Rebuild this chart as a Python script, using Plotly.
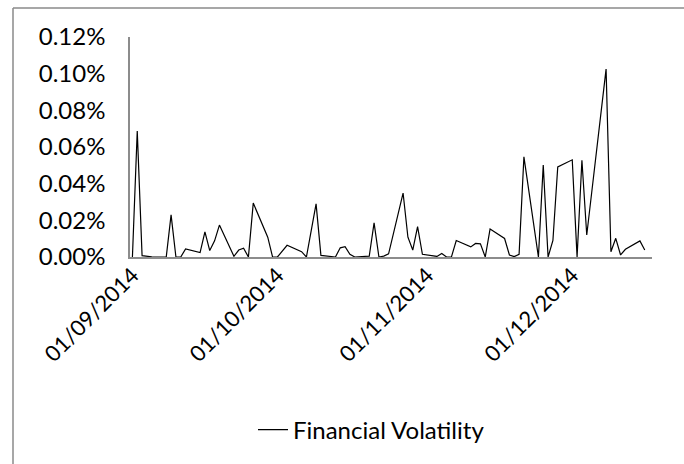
import plotly.graph_objects as go

# ---- data ----
dates = [
    "2014-09-01", "2014-09-02", "2014-09-03", "2014-09-04", "2014-09-05",
    "2014-09-08", "2014-09-09", "2014-09-10", "2014-09-11", "2014-09-12",
    "2014-09-15", "2014-09-16", "2014-09-17", "2014-09-18", "2014-09-19",
    "2014-09-22", "2014-09-23", "2014-09-24", "2014-09-25", "2014-09-26",
    "2014-09-29", "2014-09-30", "2014-10-01", "2014-10-03",
    "2014-10-06", "2014-10-07", "2014-10-09", "2014-10-10",
    "2014-10-13", "2014-10-14", "2014-10-15", "2014-10-16", "2014-10-17",
    "2014-10-20", "2014-10-21", "2014-10-22", "2014-10-23", "2014-10-24",
    "2014-10-27", "2014-10-28", "2014-10-29", "2014-10-30", "2014-10-31",
    "2014-11-03", "2014-11-04", "2014-11-05", "2014-11-06", "2014-11-07",
    "2014-11-10", "2014-11-11", "2014-11-12", "2014-11-13", "2014-11-14",
    "2014-11-17", "2014-11-18", "2014-11-19", "2014-11-20", "2014-11-21",
    "2014-11-24", "2014-11-25", "2014-11-26", "2014-11-27", "2014-11-28",
    "2014-12-01", "2014-12-02", "2014-12-03", "2014-12-04",
    "2014-12-08", "2014-12-09", "2014-12-10", "2014-12-11", "2014-12-12",
    "2014-12-15", "2014-12-16",
]
volatility = [
    0.0, 0.000687, 0.000007, 0.000003, 0.000001,
    0.0, 0.000230, 0.0, 0.0, 0.000044,
    0.000024, 0.000137, 0.000035, 0.000088, 0.000174,
    0.000004, 0.000038, 0.000048, 0.0, 0.000294,
    0.000108, 0.0, 0.0, 0.000064,
    0.000029, 0.0, 0.000290, 0.000009,
    0.0, 0.000050, 0.000056, 0.000015, 0.0,
    0.000005, 0.000186, 0.0, 0.000005, 0.000017,
    0.000349, 0.000108, 0.000038, 0.000166, 0.000015,
    0.000003, 0.000019, 0.0, 0.0, 0.000090,
    0.000055, 0.000074, 0.000072, 0.0, 0.000153,
    0.000101, 0.000011, 0.000002, 0.000015, 0.000546,
    0.0, 0.000502, 0.0, 0.000090, 0.000491,
    0.000530, 0.0, 0.000528, 0.000120,
    0.001025, 0.000029, 0.000102, 0.000011, 0.000042,
    0.000088, 0.000038,
]
series_name = "Financial Volatility"
tick_dates = ["2014-09-01", "2014-10-01", "2014-11-01", "2014-12-01"]
tick_labels = ["01/09/2014", "01/10/2014", "01/11/2014", "01/12/2014"]
y_ticks = [0, 0.0002, 0.0004, 0.0006, 0.0008, 0.0010, 0.0012]

FONT = "Lato, Carlito, 'Liberation Sans', sans-serif"
AXIS_COLOR = "#8c8c8c"
FRAME_COLOR = "#8a8a8a"
FS = 24

# plot-area pixel geometry (used to place the outer chart frame)
L, T, W, H = 130, 37, 522, 220


def px_x(p):
    return (p - L) / W


def px_y(p):
    return (T + H - p) / H


fig = go.Figure()
fig.add_trace(go.Scatter(
    x=dates, y=volatility, mode="lines", name=series_name,
    line=dict(color="black", width=1.2),
    showlegend=True,
))

fig.update_layout(
    width=684, height=464,
    margin=dict(l=L, r=684 - L - W, t=T, b=464 - T - H, autoexpand=False),
    paper_bgcolor="white", plot_bgcolor="white",
    font=dict(family=FONT, size=FS, color="black"),
    showlegend=True,
    legend=dict(
        orientation="h", x=px_x(253), xanchor="left",
        y=px_y(430), yanchor="middle",
        font=dict(family=FONT, size=FS, color="black"),
        bgcolor="rgba(0,0,0,0)",
    ),
    xaxis=dict(
        type="date",
        range=["2014-08-31 12:00", "2014-12-17 12:00"],
        tickvals=tick_dates, ticktext=tick_labels,
        tickangle=-45,
        showgrid=False, zeroline=False,
        showline=True, linecolor=AXIS_COLOR, linewidth=1.5,
        ticks="", automargin=False, ticklabelstandoff=-5,
        tickfont=dict(family=FONT, size=22, color="black"),
    ),
    yaxis=dict(
        range=[0, 0.0012],
        tickvals=y_ticks, tickformat=".2%",
        showgrid=False, zeroline=False,
        showline=True, linecolor=AXIS_COLOR, linewidth=1.5,
        ticks="", ticklabelstandoff=18, automargin=False,
        tickfont=dict(family=FONT, size=FS, color="black"),
    ),
    shapes=[
        dict(type="line", xref="paper", yref="paper",
             x0=px_x(13), x1=px_x(684), y0=px_y(8), y1=px_y(8),
             line=dict(color=FRAME_COLOR, width=1.5), layer="above"),
        dict(type="line", xref="paper", yref="paper",
             x0=px_x(13), x1=px_x(13), y0=px_y(8), y1=px_y(464),
             line=dict(color=FRAME_COLOR, width=1.5), layer="above"),
    ],
)

fig.write_html(
    "out.html",
    config={"displayModeBar": False},
    post_script=(
        "document.body.style.margin='0';"
        "document.body.style.overflow='hidden';"
        "document.documentElement.style.overflow='hidden';"
    ),
)
